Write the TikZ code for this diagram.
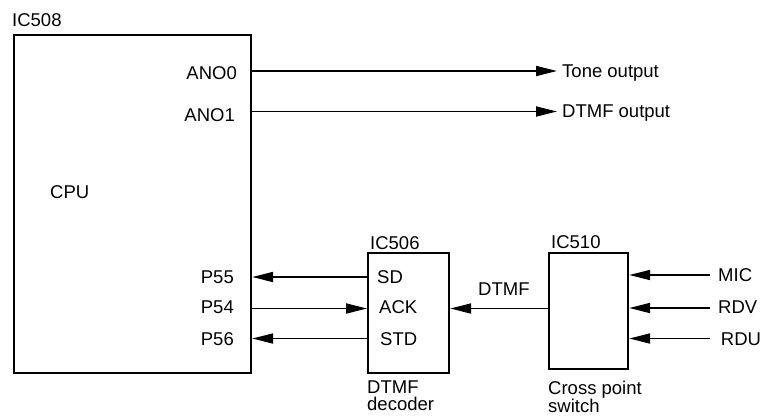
\documentclass[tikz,border=0pt]{standalone}
\usepackage{fontspec}
\setmainfont{Liberation Sans}
\usetikzlibrary{arrows.meta}
\begin{document}
\begin{tikzpicture}[x=1pt,y=-1pt,
  lbl/.style={font=\fontsize{18.5}{17}\selectfont, inner sep=0pt},
  box/.style={draw, line width=2.2pt, inner sep=0pt},
  arr/.style={line width=1.8pt, -{Triangle[length=21pt,width=10pt]}}]
\useasboundingbox (0,0) rectangle (761,416);
% boxes
\node[box, minimum width=237pt, minimum height=338pt, anchor=north west] (cpu) at (13,34) {};
\node[box, minimum width=81pt, minimum height=120pt, anchor=north west] (ic506) at (367,252) {};
\node[box, minimum width=79pt, minimum height=116pt, anchor=north west] (ic510) at (548,252) {};
% labels
\node[lbl, anchor=base west] (ic508l) at (12,26.5) {IC508};
\node[lbl, anchor=base east] (ano0) at (237,79) {ANO0};
\node[lbl, anchor=base east] (ano1) at (235,121) {ANO1};
\node[lbl, anchor=base west] (cpul) at (50,198) {CPU};
\node[lbl, anchor=base east] (p55) at (234,283.5) {P55};
\node[lbl, anchor=base east] (p54) at (234,313) {P54};
\node[lbl, anchor=base east] (p56) at (234,345) {P56};
\node[lbl, anchor=base west] (ic506l) at (370,249) {IC506};
\node[lbl, anchor=base west] (sd) at (377,283.5) {SD};
\node[lbl, anchor=base west] (ack) at (379,313.3) {ACK};
\node[lbl, anchor=base west] (std) at (380,345) {STD};
\node[lbl, anchor=north west, align=left] (dec) at (367,380.5) {DTMF\\decoder};
\node[lbl, anchor=base west] (ic510l) at (551,248.3) {IC510};
\node[lbl, anchor=base west] (dtmfl) at (478,295) {DTMF};
\node[lbl, anchor=base west] (mic) at (718,281.7) {MIC};
\node[lbl, anchor=base west] (rdv) at (718,313.3) {RDV};
\node[lbl, anchor=base west] (rdu) at (720.7,345) {RDU};
\node[lbl, anchor=north west, align=left] (cps) at (548,380.5) {Cross point\\switch};
\node[lbl, anchor=base west] (tone) at (562,77) {Tone output};
\node[lbl, anchor=base west] (dtmfo) at (562,117) {DTMF output};
% connector coordinates
\coordinate (tonetip) at (557,71);
\coordinate (dtmftip) at (557,111.5);
\coordinate (y55) at (0,277);
\coordinate (y54) at (0,308.5);
\coordinate (y56) at (0,338.5);
\coordinate (ydt) at (0,308.5);
\coordinate (micsrc) at (710,275);
\coordinate (rdvsrc) at (710,308);
\coordinate (rdusrc) at (710,338.5);
% connectors
\draw[arr] (cpu.east |- tonetip) -- (tonetip);
\draw[arr] (cpu.east |- dtmftip) -- (dtmftip);
\draw[arr] (ic506.west |- y55) -- (cpu.east |- y55);
\draw[arr] (cpu.east |- y54) -- (ic506.west |- y54);
\draw[arr] (ic506.west |- y56) -- (cpu.east |- y56);
\draw[arr] (ic510.west |- ydt) -- (ic506.east |- ydt);
\draw[arr] (micsrc) -- (ic510.east |- micsrc);
\draw[arr] (rdvsrc) -- (ic510.east |- rdvsrc);
\draw[arr] (rdusrc) -- (ic510.east |- rdusrc);
\end{tikzpicture}
\end{document}
